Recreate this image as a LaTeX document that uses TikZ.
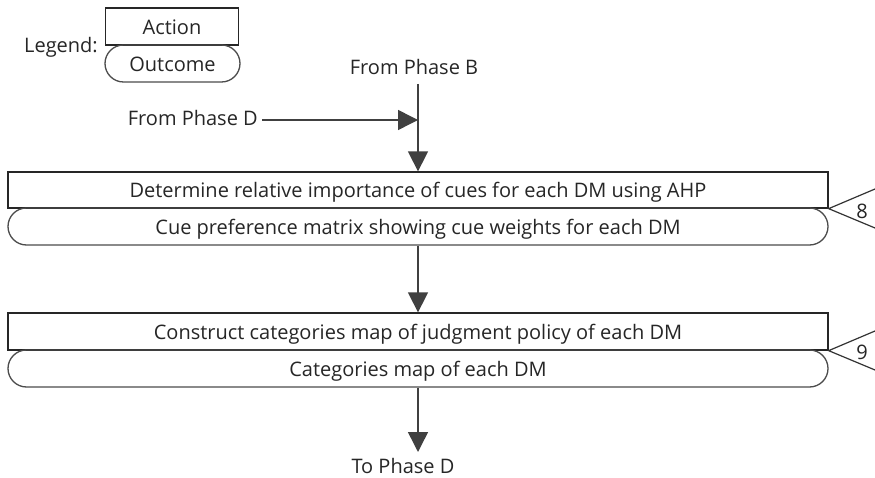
\documentclass[tikz,border=0pt]{standalone}
\usepackage{fontspec}
\setmainfont{Open Sans}
\usetikzlibrary{shapes.misc,arrows.meta}
\begin{document}
\begin{tikzpicture}[x=1pt,y=-1pt,
  every node/.style={font=\fontsize{20}{23}\selectfont, text=black!85, inner sep=0pt, text height=17pt, text depth=1pt},
  action/.style={draw=black!85, line width=1.3pt, rectangle, minimum height=37pt},
  outcome/.style={draw=black!70, line width=1.3pt, rounded rectangle, rounded rectangle arc length=180, minimum height=37pt},
  flow/.style={draw=black!75, line width=1.5pt, -{Triangle[length=20pt,width=20pt]}},
  tri/.style={draw=black!80, line width=1.2pt}]
\useasboundingbox (0,0) rectangle (875,478);
\fill[white] (0,0) rectangle (875,478);

% legend
\node[action, minimum width=133pt] (legA) at (172,26.5) {Action};
\node[outcome, minimum width=135pt] (legO) at (172.5,63.5) {Outcome};
\node[anchor=east] (legT) at (98,45) {Legend:};

% boxes
\node[action, minimum width=820pt, minimum height=36pt] (a1) at (418,190) {Determine relative importance of cues for each DM using AHP};
\node[outcome, minimum width=820pt] (o1) at (418,226.5) {Cue preference matrix showing cue weights for each DM};
\node[action, minimum width=820pt] (a2) at (418,331.5) {Construct categories map of judgment policy of each DM};
\node[outcome, minimum width=820pt] (o2) at (418,368.5) {Categories map of each DM};

% inputs
\node (fromB) at (414,67) {From Phase B};
\coordinate (b0) at (418,84);
\draw[flow] (b0) -- (a1.north);
\node[anchor=east] (fromD) at (258,118) {From Phase D};
\coordinate (j) at (418,120);
\draw[flow] ([xshift=4pt]fromD.east |- j) -- (j);

% flows
\draw[flow] (o1.south) -- (a2.north);
\coordinate (e) at (418,452);
\draw[flow] (o2.south) -- (e);
\node (toD) at (403,465) {To Phase D};

% step markers
\coordinate (u1) at (875,189);
\coordinate (l1) at (875,228);
\draw[tri] (u1) -- (a1.south east) -- (l1);
\node (n8) at (862,211) {8};
\coordinate (u2) at (875,331);
\coordinate (l2) at (875,370);
\draw[tri] (u2) -- (a2.south east) -- (l2);
\node (n9) at (862,351) {9};
\end{tikzpicture}
\end{document}
